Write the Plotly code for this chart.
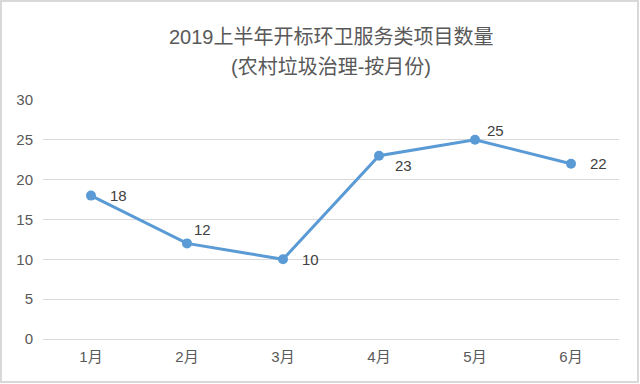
import plotly.graph_objects as go

months = ["1月", "2月", "3月", "4月", "5月", "6月"]
counts = [18, 12, 10, 23, 25, 22]
y_ticks = [0, 5, 10, 15, 20, 25, 30]
title_lines = ["2019上半年开标环卫服务类项目数量", "(农村垃圾治理-按月份)"]

# label offsets in pixels (x from point centre to label left edge, y up positive)
label_dx = [17, 5, 17, 14, 10, 17]
label_dy = [0, 14, 0, -10, 9, 0]

W, H = 640, 384
ML, MR, MT, MB = 43, 21, 100, 45
PW, PH = W - ML - MR, H - MT - MB

def px(x):
    return (x - ML) / PW

def py(y):
    return (H - MB - y) / PH

font_family = "Liberation Sans, Arial, Noto Sans CJK SC, sans-serif"

fig = go.Figure()
fig.add_trace(go.Scatter(
    x=months, y=counts, mode="lines+markers",
    line=dict(color="#5B9BD5", width=3),
    marker=dict(color="#5B9BD5", size=10),
    cliponaxis=False,
    hoverinfo="x+y",
))

annotations = []
for m, v, dx, dy in zip(months, counts, label_dx, label_dy):
    annotations.append(dict(
        x=m, y=v, xref="x", yref="y", text=str(v), showarrow=False,
        xanchor="left", yanchor="middle", xshift=dx, yshift=dy,
        font=dict(size=15, color="#404040", family=font_family),
    ))
for t, yc in zip(title_lines, [37, 67]):
    annotations.append(dict(
        x=0.5, y=py(yc), xref="paper", yref="paper", text=t, showarrow=False,
        xanchor="center", yanchor="middle",
        font=dict(size=20, color="#595959", family=font_family),
    ))

fig.update_layout(
    width=W, height=H,
    margin=dict(l=ML, r=MR, t=MT, b=MB),
    paper_bgcolor="white", plot_bgcolor="white",
    showlegend=False,
    font=dict(family=font_family, color="#595959"),
    xaxis=dict(
        type="category", range=[-0.5, 5.5],
        showgrid=False, showline=False, zeroline=False,
        ticks="", ticklabelstandoff=7,
        tickfont=dict(size=15, color="#595959"),
    ),
    yaxis=dict(
        range=[0, 30], tickvals=y_ticks,
        showgrid=True, gridcolor="#D9D9D9", gridwidth=1,
        zeroline=True, zerolinecolor="#D9D9D9", zerolinewidth=1,
        showline=False, ticks="", ticklen=0, ticklabelstandoff=9,
        tickfont=dict(size=15, color="#595959"),
    ),
    annotations=annotations,
    shapes=[dict(
        type="rect", xref="paper", yref="paper",
        x0=px(1), x1=px(638), y0=py(382), y1=py(1),
        line=dict(color="#D9D9D9", width=2), fillcolor="rgba(0,0,0,0)",
        layer="below",
    )],
)

fig.write_html(
    "out.html",
    config={"displayModeBar": False},
    post_script="document.body.style.margin='0';document.body.style.padding='0';document.body.style.overflow='hidden';",
)
